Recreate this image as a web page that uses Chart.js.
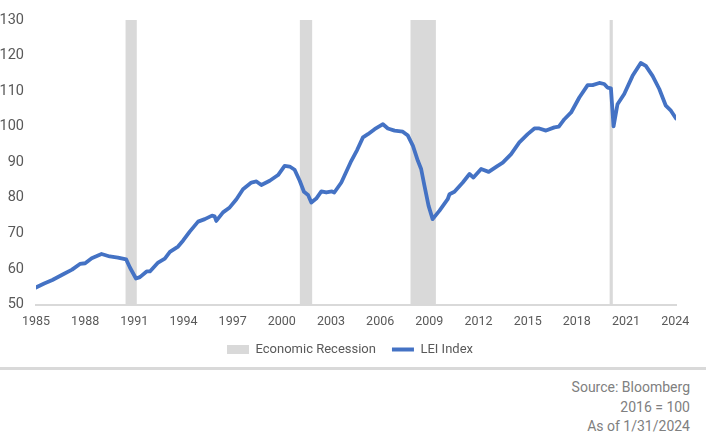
<!DOCTYPE html>
<html>
<head>
<meta charset="utf-8">
<script src="https://cdn.jsdelivr.net/npm/chart.js@4.4.1/dist/chart.umd.min.js"></script>
<style>
  body { margin: 0; background: #fff; font-family: Roboto, "Liberation Sans", sans-serif; }
  #wrap { width: 706px; height: 366px; }
  #rule { height: 3px; background: #d9d9d9; margin-top: 1px; }
  #notes { text-align: right; padding-right: 16px; color: #808080; font-size: 14px; line-height: 19.5px; margin-top: 8px; }
</style>
</head>
<body>
<div id="wrap"><canvas id="leiChart" width="706" height="366"></canvas></div>
<div id="rule"></div>
<div id="notes">
  <div>Source: Bloomberg</div>
  <div>2016 = 100</div>
  <div>As of 1/31/2024</div>
</div>
<script>
// values (decimal years)
const years = [
  1985.0, 1985.5, 1986.0, 1986.66, 1987.2, 1987.68, 1988.0, 1988.4, 1989.0, 1989.5,
  1990.0, 1990.5, 1990.73, 1991.1, 1991.34, 1991.75, 1991.95, 1992.45, 1992.86, 1993.17,
  1993.67, 1993.98, 1994.38, 1994.89, 1995.3, 1995.74, 1995.9, 1996.0, 1996.41, 1996.82,
  1997.23, 1997.63, 1998.14, 1998.45, 1998.75, 1999.26, 1999.77, 2000.17, 2000.48, 2000.78,
  2001.09, 2001.35, 2001.6, 2001.8, 2002.1, 2002.41, 2002.71, 2003.06, 2003.2, 2003.63,
  2004.24, 2004.6, 2004.95, 2005.25, 2005.66, 2006.17, 2006.47, 2006.88, 2007.38, 2007.69,
  2008.0, 2008.3, 2008.5, 2008.7, 2008.95, 2009.2, 2009.62, 2010.12, 2010.23, 2010.53,
  2011.04, 2011.45, 2011.69, 2012.16, 2012.62, 2013.17, 2013.48, 2013.99, 2014.49, 2015.0,
  2015.41, 2015.71, 2016.12, 2016.63, 2016.9, 2017.24, 2017.65, 2018.15, 2018.66, 2018.96,
  2019.37, 2019.67, 2019.87, 2020.08, 2020.24, 2020.48, 2020.89, 2021.4, 2021.9, 2022.21,
  2022.62, 2023.03, 2023.43, 2023.74, 2024.05
];
const leiValues = [
  54.8, 55.9, 56.9, 58.5, 59.8, 61.4, 61.6, 63.0, 64.2, 63.5,
  63.2, 62.7, 60.4, 57.3, 57.7, 59.3, 59.3, 61.8, 62.9, 64.8,
  66.3, 68.0, 70.5, 73.3, 74.0, 75.0, 74.8, 73.5, 75.9, 77.3,
  79.6, 82.4, 84.3, 84.6, 83.6, 84.8, 86.4, 89.0, 88.8, 87.9,
  84.8, 81.7, 80.8, 78.7, 79.8, 81.8, 81.5, 81.8, 81.5, 84.3,
  90.4, 93.5, 97.0, 97.9, 99.3, 100.7, 99.5, 98.9, 98.6, 97.5,
  94.6, 90.4, 88.1, 83.4, 77.8, 74.0, 76.4, 79.6, 81.0, 81.7,
  84.3, 86.7, 85.7, 88.1, 87.3, 89.0, 89.9, 92.3, 95.6, 97.9,
  99.5, 99.5, 98.9, 99.8, 100.0, 102.1, 104.0, 108.2, 111.7, 111.7,
  112.3, 112.0, 111.0, 110.8, 100.1, 106.3, 109.2, 114.3, 117.9, 117.1,
  114.3, 110.6, 105.9, 104.5, 102.3
];
const recessionStarts = [1990.45, 2001.1, 2007.85, 2020.0];
const recessionEnds = [1991.15, 2001.85, 2009.4, 2020.2];
const xTicks = [1985, 1988, 1991, 1994, 1997, 2000, 2003, 2006, 2009, 2012, 2015, 2018, 2021, 2024];
const yMin = 50;
const yMax = 130;

const FONT = 'Roboto, "Liberation Sans", sans-serif';
const TEXT = '#595959';
const GREY = '#d9d9d9';
const BLUE = '#4472C4';

// recession shading: a step outline along the top of the axis, filled down to the bottom
const recessionPoints = [];
recessionStarts.forEach((s, i) => {
  recessionPoints.push({ x: s, y: yMin }, { x: s, y: yMax }, { x: recessionEnds[i], y: yMax }, { x: recessionEnds[i], y: yMin });
});
const leiPoints = years.map((y, i) => ({ x: y, y: leiValues[i] }));

new Chart(document.getElementById('leiChart'), {
  type: 'line',
  data: {
    datasets: [
      {
        label: 'Economic Recession',
        data: recessionPoints,
        borderWidth: 0,
        pointRadius: 0,
        backgroundColor: GREY,
        fill: 'start',
        order: 1
      },
      {
        label: 'LEI Index',
        data: leiPoints,
        borderColor: BLUE,
        borderWidth: 3.8,
        borderJoinStyle: 'round',
        borderCapStyle: 'round',
        pointRadius: 0,
        tension: 0,
        fill: false,
        order: 0
      }
    ]
  },
  options: {
    responsive: false,
    animation: false,
    layout: { padding: { left: 0, right: 6, top: 20, bottom: 0 } },
    plugins: {
      tooltip: { enabled: false },
      legend: {
        position: 'bottom',
        labels: {
          usePointStyle: true,
          pointStyleWidth: 22,
          boxHeight: 9,
          padding: 16,
          color: TEXT,
          font: { family: FONT, size: 13 },
          generateLabels: () => [
            { text: 'Economic Recession', fillStyle: GREY, strokeStyle: GREY, lineWidth: 0, pointStyle: 'rect', fontColor: TEXT, datasetIndex: 0 },
            { text: 'LEI Index', fillStyle: BLUE, strokeStyle: BLUE, lineWidth: 4, pointStyle: 'line', fontColor: TEXT, datasetIndex: 1 }
          ]
        }
      }
    },
    scales: {
      x: {
        type: 'linear',
        min: 1985,
        max: 2024.05,
        grid: { display: false, drawTicks: false },
        border: { color: GREY, width: 2 },
        ticks: {
          color: TEXT,
          font: { family: FONT, size: 12.5 },
          padding: 10,
          maxRotation: 0,
          callback: v => String(v)
        },
        afterBuildTicks: s => { s.ticks = xTicks.map(v => ({ value: v })); },
        afterFit: s => { s.height = 22.5; }
      },
      y: {
        min: yMin,
        max: yMax,
        grid: { display: false },
        border: { display: false },
        ticks: {
          stepSize: 10,
          color: TEXT,
          font: { family: FONT, size: 14.5 },
          padding: 4
        },
        afterFit: s => { s.width = 36; }
      },
      // empty right-hand axis: only holds the blank margin right of the plot
      yRight: {
        position: 'right',
        min: 0,
        max: 1,
        grid: { display: false },
        border: { display: false },
        ticks: { display: false },
        afterFit: s => { s.width = 24; }
      }
    }
  }
});
</script>
</body>
</html>
